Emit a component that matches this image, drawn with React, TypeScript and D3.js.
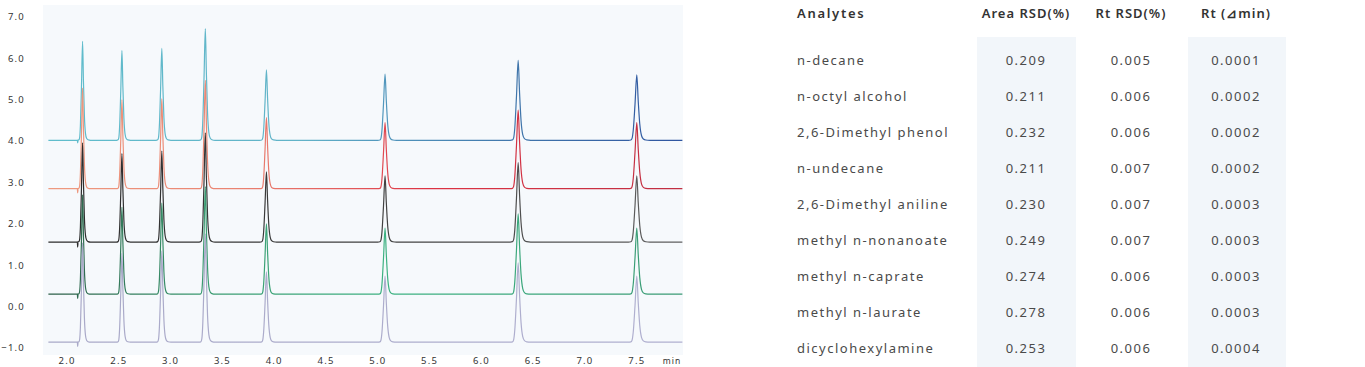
import React from 'react';
import * as d3 from 'd3';

// ---------- data ----------
const retentionTimes = [2.15, 2.53, 2.915, 3.335, 3.925, 5.07, 6.355, 7.5];
const peakWidthScale = [0.7, 0.75, 0.8, 0.85, 0.9, 1.0, 1.1, 1.15];
const traceKeys = ['cyan', 'orange', 'black', 'green', 'lavender'];
const baselines = [4.02, 2.85, 1.56, 0.3, -0.86];
const heightsCyan = [2.39, 2.17, 2.22, 2.7, 1.7, 1.6, 1.93, 1.58];
const heightsOrange = [2.43, 2.15, 2.17, 2.62, 1.72, 1.6, 1.9, 1.6];
const heightsBlack = [2.4, 2.14, 2.2, 2.64, 1.7, 1.6, 1.92, 1.6];
const heightsGreen = [2.4, 2.1, 2.2, 2.6, 1.7, 1.6, 1.94, 1.6];
const heightsLavender = [2.4, 2.15, 2.2, 2.62, 1.7, 1.6, 1.92, 1.6];
const traceHeights = [heightsCyan, heightsOrange, heightsBlack, heightsGreen, heightsLavender];
const startDips = [0.06, 0.1, 0.12, 0.1, 0.1];
const traceStart = 1.82;
const traceEnd = 7.94;
// relative peak profile: [time offset (min), fraction of height]
const peakProfile: [number, number][] = [
  [-0.07, 0], [-0.05, 0.005], [-0.04, 0.03], [-0.03, 0.15], [-0.015, 0.55], [0, 1],
  [0.012, 0.6], [0.025, 0.25], [0.04, 0.07], [0.055, 0.02], [0.075, 0.005], [0.11, 0],
];

const yTicks = [-1, 0, 1, 2, 3, 4, 5, 6, 7];
const xTicks = [2.0, 2.5, 3.0, 3.5, 4.0, 4.5, 5.0, 5.5, 6.0, 6.5, 7.0, 7.5];

const tableHeaders = ['Analytes', 'Area RSD(%)', 'Rt RSD(%)', 'Rt (⊿min)'];
const analytes = [
  'n-decane', 'n-octyl alcohol', '2,6-Dimethyl phenol', 'n-undecane', '2,6-Dimethyl aniline',
  'methyl n-nonanoate', 'methyl n-caprate', 'methyl n-laurate', 'dicyclohexylamine',
];
const areaRSD = ['0.209', '0.211', '0.232', '0.211', '0.230', '0.249', '0.274', '0.278', '0.253'];
const rtRSD = ['0.005', '0.006', '0.006', '0.007', '0.007', '0.007', '0.006', '0.006', '0.006'];
const rtDelta = ['0.0001', '0.0002', '0.0002', '0.0002', '0.0003', '0.0003', '0.0003', '0.0003', '0.0004'];

// ---------- styles ----------
const gradients: Record<string, [number, string][]> = {
  cyan: [[0, '#5fbdcc'], [0.4, '#62b3c8'], [0.55, '#4f93bb'], [0.75, '#3f74aa'], [1, '#2f55a0']],
  orange: [[0, '#ee9b80'], [0.3, '#ea8472'], [0.5, '#e25458'], [0.6, '#dc3343'], [1, '#c02f42']],
  black: [[0, '#2b2b2b'], [0.6, '#444444'], [1, '#606060']],
  green: [[0, '#2c5c46'], [0.25, '#3a9a70'], [0.55, '#3db282'], [1, '#3a9a74']],
  lavender: [[0, '#a9a9c8'], [1, '#b0b0d0']],
};

const W = 1365;
const H = 367;
const plot = { left: 43, right: 683, top: 5, bottom: 355 };

export default function App() {
  const x = d3.scaleLinear().domain([1.768, 7.946]).range([plot.left, plot.right]);
  const y = d3.scaleLinear().domain([-1, 7]).range([348, 17]);
  const line = d3
    .line<[number, number]>()
    .x((d) => x(d[0]))
    .y((d) => y(d[1]))
    .curve(d3.curveMonotoneX);

  const tracePaths = traceKeys.map((key, ti) => {
    const b = baselines[ti];
    const pts: [number, number][] = [[traceStart, b]];
    pts.push([2.1, b], [2.102, b - startDips[ti]], [2.106, b - startDips[ti] * 0.3]);
    retentionTimes.forEach((rt, pi) => {
      const s = peakWidthScale[pi];
      const h = traceHeights[ti][pi];
      peakProfile.forEach(([dt, f]) => pts.push([rt + dt * s, b + f * h]));
    });
    pts.push([traceEnd, b]);
    return { key, d: line(pts) as string };
  });

  const font = '"Noto Sans", "Open Sans", sans-serif';
  const colArea = 1026;
  const colRt = 1131;
  const colDelta = 1236;
  const rowY = (i: number) => 60 + i * 36;

  return (
    <svg width={W} height={H} style={{ position: 'absolute', left: 0, top: 0, background: '#fff' }}>
      <defs>
        {traceKeys.map((k) => (
          <linearGradient key={k} id={`g-${k}`} gradientUnits="userSpaceOnUse" x1={plot.left} x2={plot.right} y1={0} y2={0}>
            {gradients[k].map(([o, c], i) => (
              <stop key={i} offset={o} stopColor={c} />
            ))}
          </linearGradient>
        ))}
      </defs>

      {/* plot background */}
      <rect x={plot.left} y={plot.top} width={plot.right - plot.left} height={plot.bottom - plot.top} fill="#f6f9fc" />

      {/* y axis labels */}
      {yTicks.map((t) => (
        <text key={t} x={25} y={y(t)} dy="0.35em" textAnchor="end" fontFamily={font} fontSize={9.5} letterSpacing={1.2} fill="#333">
          {d3.format('.1f')(t)}
        </text>
      ))}
      {/* x axis labels */}
      {xTicks.map((t) => (
        <text key={t} x={x(t)} y={364} textAnchor="middle" fontFamily={font} fontSize={9.5} letterSpacing={1.2} fill="#333">
          {d3.format('.1f')(t)}
        </text>
      ))}
      <text x={672} y={364} textAnchor="middle" fontFamily={font} fontSize={8.5} letterSpacing={1} fill="#333">
        min
      </text>

      {/* traces */}
      {tracePaths.map((p) => (
        <path key={p.key} d={p.d} fill="none" stroke={`url(#g-${p.key})`} strokeWidth={1.2} strokeLinejoin="round" />
      ))}

      {/* table column shading */}
      <rect x={977} y={37} width={99} height={H - 37} fill="#f2f6fa" />
      <rect x={1188} y={37} width={98} height={H - 37} fill="#f2f6fa" />

      {/* table headers */}
      <text x={797} y={18} fontFamily={font} fontSize={13} fontWeight={600} letterSpacing={1.7} fill="#333">
        {tableHeaders[0]}
      </text>
      {[colArea, colRt, colDelta].map((cx, i) => (
        <text key={i} x={cx} y={18} textAnchor="middle" fontFamily={font} fontSize={13} fontWeight={600} letterSpacing={1} fill="#333">
          {tableHeaders[i + 1]}
        </text>
      ))}

      {/* table rows */}
      {analytes.map((a, i) => (
        <g key={a} fontFamily={font} fontSize={13} fill="#4a4a4a" letterSpacing={1.5}>
          <text x={797} y={rowY(i)} dy="0.35em">{a}</text>
          <text x={colArea} y={rowY(i)} dy="0.35em" textAnchor="middle">{areaRSD[i]}</text>
          <text x={colRt} y={rowY(i)} dy="0.35em" textAnchor="middle">{rtRSD[i]}</text>
          <text x={colDelta} y={rowY(i)} dy="0.35em" textAnchor="middle">{rtDelta[i]}</text>
        </g>
      ))}
    </svg>
  );
}
